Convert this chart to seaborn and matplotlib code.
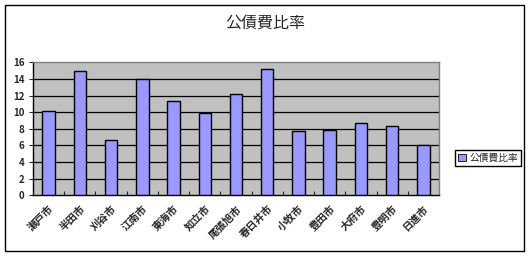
import matplotlib
matplotlib.use("Agg")
import matplotlib.pyplot as plt
import seaborn as sns
import pandas as pd
from matplotlib.patches import Rectangle

cities = ["瀬戸市", "半田市", "刈谷市", "江南市", "東海市", "知立市", "尾張旭市",
          "春日井市", "小牧市", "豊田市", "大府市", "豊明市", "日進市"]
values = [10.2, 14.9, 6.6, 14.0, 11.4, 9.9, 12.15, 15.15, 7.7, 7.85, 8.65, 8.3, 6.0]
yticks = [0, 2, 4, 6, 8, 10, 12, 14, 16]
series_name = "公債費比率"

sns.set_theme(style="white")
plt.rcParams['font.family'] = ['Noto Sans CJK JP', 'DejaVu Sans']

df = pd.DataFrame({"city": cities, "value": values})

fig = plt.figure(figsize=(5.30, 2.56), dpi=100)
fig.patch.set_facecolor("white")
# outer frame
fig.patches.append(Rectangle((5 / 530, 5 / 256), 519 / 530, 246 / 256, transform=fig.transFigure,
                             fill=False, edgecolor="black", linewidth=1.0))

ax = fig.add_axes([33 / 530, (256 - 195.3) / 256, 406 / 530, 133 / 256])
ax.set_facecolor("#C0C0C0")
sns.barplot(data=df, x="city", y="value", color="#9999FF", edgecolor="black", linewidth=1.0,
            width=0.4, saturation=1, ax=ax, label=series_name, zorder=3)

ax.set_ylim(0, 16)
ax.set_xlim(-0.5, len(cities) - 0.5)
ax.set_yticks(yticks)
ax.set_yticklabels([str(t) for t in yticks], fontsize=7, fontweight="bold")
for t in yticks[1:-1]:
    ax.axhline(t, color="black", linewidth=0.9, zorder=1)
ax.set_xlabel("")
ax.set_ylabel("")
ax.set_xticks(range(len(cities)))
ax.set_xticklabels(cities, rotation=45, ha="right", va="top", rotation_mode="anchor",
                   fontsize=7.5, fontweight="bold")
ax.tick_params(axis="x", length=0, pad=6)
ax.tick_params(axis="y", length=3, width=0.8, direction="out", pad=3, left=True)
# boundary ticks on the x axis
ax.set_xticks([i + 0.5 for i in range(len(cities) - 1)], minor=True)
ax.tick_params(axis="x", which="minor", length=3, direction="in", width=0.8, bottom=True)

for side in ["top", "right"]:
    ax.spines[side].set_color("#808080")
    ax.spines[side].set_linewidth(1.0)
for side in ["left", "bottom"]:
    ax.spines[side].set_color("black")
    ax.spines[side].set_linewidth(1.0)

leg = ax.get_legend()
if leg is not None:
    leg.remove()
handles = [Rectangle((0, 0), 1, 1, facecolor="#9999FF", edgecolor="black", linewidth=0.6)]
fig.legend(handles, [series_name], loc="center", bbox_to_anchor=(488 / 530, 1 - 158 / 256),
           frameon=True, fancybox=False, edgecolor="black", fontsize=7,
           handlelength=0.8, handleheight=0.8, handletextpad=0.4, borderpad=0.3,
           framealpha=1).get_frame().set_linewidth(1.0)

fig.text(265 / 530, 1 - 23 / 256, "公債費比率", ha="center", va="center", fontsize=11.5)

fig.savefig("out.png", dpi=100)
